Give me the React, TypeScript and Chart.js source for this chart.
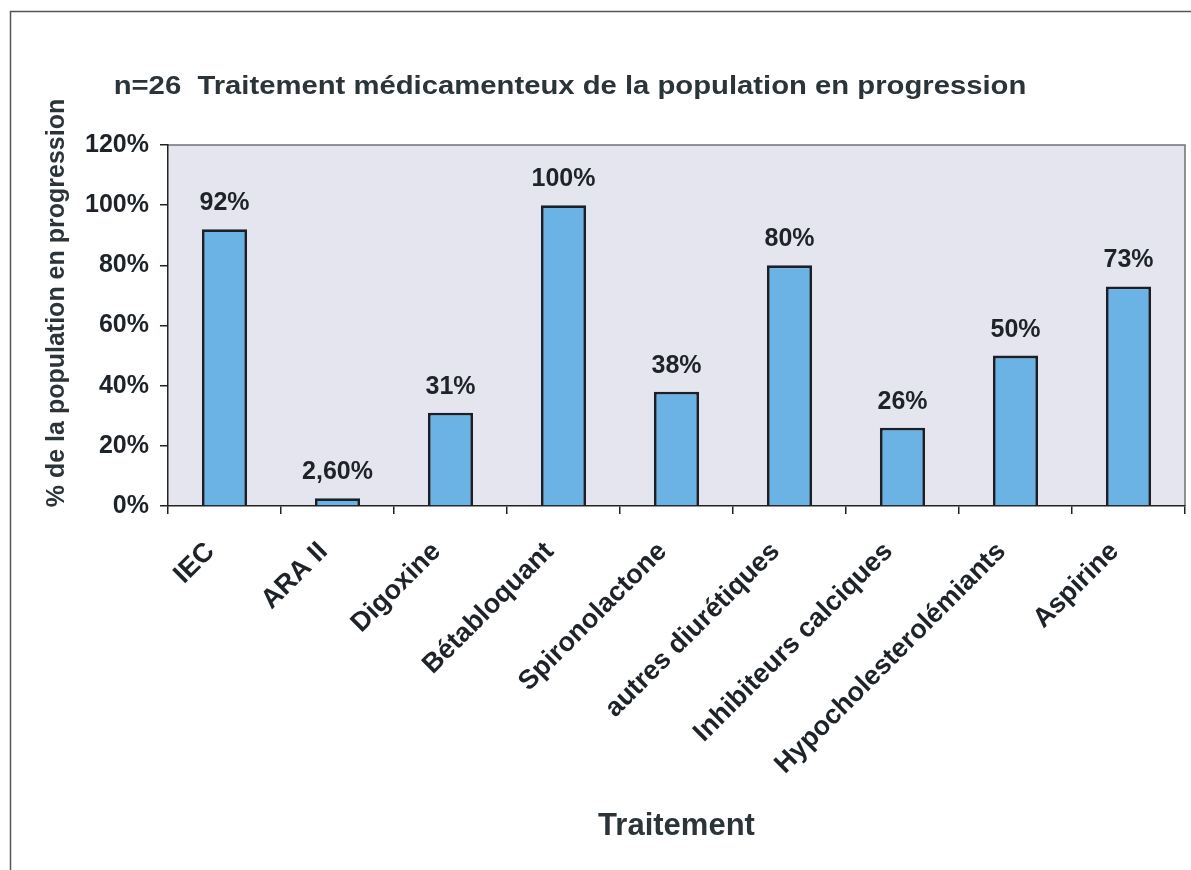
import React, { useEffect, useRef } from "react";
import { Chart, registerables } from "chart.js";

Chart.register(...registerables);

const categories = [
  "IEC",
  "ARA II",
  "Digoxine",
  "Bétabloquant",
  "Spironolactone",
  "autres diurétiques",
  "Inhibiteurs calciques",
  "Hypocholesterolémiants",
  "Aspirine",
];
const values = [92, 2.6, 31, 100, 38, 80, 26, 50, 73];
const valueLabels = ["92%", "2,60%", "31%", "100%", "38%", "80%", "26%", "50%", "73%"];
const yTickValues = [0, 20, 40, 60, 80, 100, 120];
const chartTitle = "n=26  Traitement médicamenteux de la population en progression";
const yTitle = "% de la population en progression";
const xTitle = "Traitement";

const FONT = "'Liberation Sans', Arial, sans-serif";
const TEXT = "#1d2328";
const TITLE_COLOR = "#2b3439";

const decorPlugin = {
  id: "decor",
  beforeDraw(chart: any) {
    const { ctx, chartArea, width, height } = chart;
    ctx.save();
    ctx.fillStyle = "#ffffff";
    ctx.fillRect(0, 0, width, height);
    // outer frame
    ctx.strokeStyle = "#555555";
    ctx.lineWidth = 1.5;
    ctx.beginPath();
    ctx.moveTo(10.5, height);
    ctx.lineTo(10.5, 11.5);
    ctx.lineTo(width, 11.5);
    ctx.stroke();
    // plot background
    ctx.fillStyle = "#e5e5ef";
    ctx.fillRect(chartArea.left, chartArea.top, chartArea.right - chartArea.left, chartArea.bottom - chartArea.top);
    ctx.strokeStyle = "#6f6f78";
    ctx.lineWidth = 1.5;
    ctx.beginPath();
    ctx.moveTo(chartArea.left, chartArea.top);
    ctx.lineTo(chartArea.right, chartArea.top);
    ctx.lineTo(chartArea.right, chartArea.bottom);
    ctx.stroke();
    ctx.restore();
  },
  afterDatasetsDraw(chart: any) {
    const { ctx } = chart;
    const meta = chart.getDatasetMeta(0);
    ctx.save();
    ctx.fillStyle = TEXT;
    ctx.font = `bold 25px ${FONT}`;
    ctx.textAlign = "center";
    ctx.textBaseline = "alphabetic";
    meta.data.forEach((bar: any, i: number) => {
      ctx.fillText(valueLabels[i], bar.x, bar.y - 19);
    });
    ctx.restore();
  },
  afterDraw(chart: any) {
    const { ctx } = chart;
    ctx.save();
    ctx.fillStyle = TITLE_COLOR;
    ctx.font = `bold 25px ${FONT}`;
    ctx.textAlign = "center";
    ctx.textBaseline = "middle";
    ctx.translate(570, 87);
    ctx.scale(1.17, 1);
    ctx.fillText(chartTitle, 0, 0);
    ctx.restore();

    ctx.save();
    ctx.fillStyle = TITLE_COLOR;
    ctx.font = `bold 25px ${FONT}`;
    ctx.textAlign = "center";
    ctx.textBaseline = "middle";
    ctx.translate(57, 303);
    ctx.rotate(-Math.PI / 2);
    ctx.fillText(yTitle, 0, 0);
    ctx.restore();
  },
};

export default function App() {
  const canvasRef = useRef<HTMLCanvasElement | null>(null);

  useEffect(() => {
    if (!canvasRef.current) return;
    const chart = new Chart(canvasRef.current, {
      type: "bar",
      data: {
        labels: categories,
        datasets: [
          {
            data: values,
            backgroundColor: "#6bb3e4",
            borderColor: "#1a2029",
            borderWidth: 2.8,
            barPercentage: 0.4,
            categoryPercentage: 1,
          },
        ],
      },
      options: {
        responsive: false,
        animation: false,
        devicePixelRatio: 1,
        layout: { padding: { top: 145, right: 6, left: 0, bottom: 0 } },
        plugins: {
          legend: { display: false },
          tooltip: { enabled: false },
          title: { display: false },
        },
        scales: {
          x: {
            grid: { offset: true, drawOnChartArea: false, tickLength: 8, color: "#222", lineWidth: 1.5 },
            border: { color: "#222", width: 1.5 },
            ticks: {
              autoSkip: false,
              minRotation: 45,
              maxRotation: 45,
              color: TEXT,
              font: { family: FONT, size: 27, weight: "bold" },
              padding: 22,
              labelOffset: -14,
            },
            title: {
              display: true,
              text: xTitle,
              color: TITLE_COLOR,
              font: { family: FONT, size: 31, weight: "bold" },
              padding: { top: 0, bottom: 25 },
            },
            afterFit(scale: any) {
              scale.height = 364;
            },
          },
          y: {
            min: 0,
            max: 120,
            afterBuildTicks(scale: any) {
              scale.ticks = yTickValues.map((v) => ({ value: v }));
            },
            grid: { drawOnChartArea: false, tickLength: 8, color: "#222", lineWidth: 1.5 },
            border: { color: "#222", width: 1.5 },
            ticks: {
              color: TEXT,
              font: { family: FONT, size: 25, weight: "bold" },
              padding: 11,
              callback: (v: any) => `${v}%`,
            },
            title: { display: false },
            afterFit(scale: any) {
              scale.width = 168;
            },
          },
        },
      },
      plugins: [decorPlugin],
    });
    return () => chart.destroy();
  }, []);

  return (
    <div style={{ position: "absolute", left: 0, top: 0, width: 1191, height: 870 }}>
      <canvas ref={canvasRef} width={1191} height={870} style={{ display: "block" }} />
    </div>
  );
}
